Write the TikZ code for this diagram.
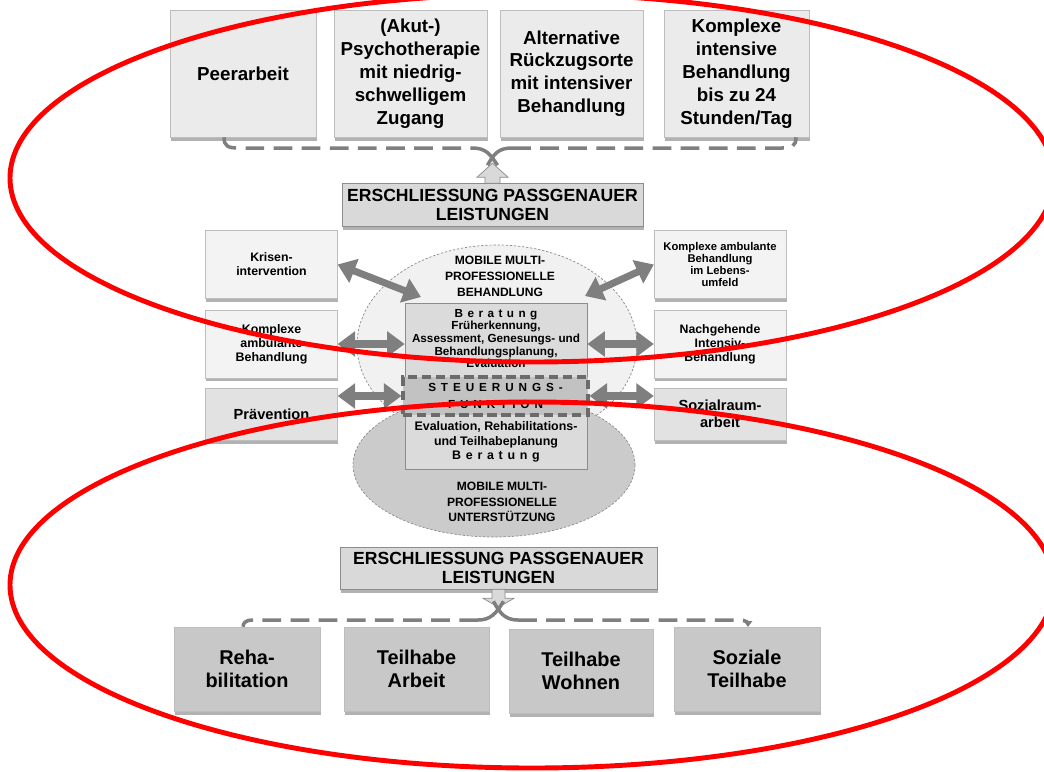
\documentclass[tikz,border=0pt]{standalone}
\usepackage{fontspec}
\setmainfont{Liberation Sans}
\usetikzlibrary{arrows.meta,shadows,calc}
\definecolor{lightfill}{HTML}{EBEBEB}
\definecolor{palefill}{HTML}{F3F3F3}
\definecolor{greyfill}{HTML}{E2E2E2}
\definecolor{midfill}{HTML}{D9D9D9}
\definecolor{darkfill}{HTML}{C8C8C8}
\definecolor{rimcolor}{HTML}{BDBDBD}
\definecolor{linkcolor}{HTML}{7F7F7F}
\definecolor{ringcolor}{HTML}{FF0000}
\colorlet{shadecolor}{black!60}
\tikzstyle{basebox} = [
    rectangle,
    draw=rimcolor,
    line width=0.5pt,
    align=center,
    inner sep=2pt,
    drop shadow={shadow xshift=0.6pt, shadow yshift=-3pt, fill=shadecolor, opacity=0.5}
    ]
\tikzstyle{topbox} = [basebox, fill=lightfill, minimum height=3.81cm,
    font=\bfseries\fontsize{16}{19.5}\selectfont]
\tikzstyle{sidebox} = [basebox, fill=palefill, minimum width=3.95cm, minimum height=2.03cm]
\tikzstyle{lowbox} = [basebox, fill=darkfill, minimum height=2.52cm,
    font=\bfseries\fontsize{17}{19.5}\selectfont]
\tikzstyle{keybox} = [basebox, fill=midfill, draw=black!45, minimum height=1.29cm,
    font=\bfseries\fontsize{15}{16.2}\selectfont]
\tikzstyle{fatlink} = [draw=linkcolor, line width=6pt, <->,
    >={Triangle[length=15pt,width=21pt]}]
\tikzstyle{bracket} = [draw=linkcolor, line width=3pt, dash pattern=on 16pt off 8pt]
\tikzstyle{blockarrow} = [fill=midfill, draw=black!45, line width=0.6pt]
\tikzstyle{oval} = [dash pattern=on 2pt off 1.5pt, draw=black!45, line width=0.6pt]
\tikzstyle{ring} = [draw=ringcolor, line width=4.2pt]

\begin{document}
\begin{tikzpicture}[x=0.03cm, y=-0.03cm]
\useasboundingbox (0,0) rectangle (1044,771);

% offers on top
\node[topbox, minimum width=4.38cm] (peer) at (243,73.5) {Peerarbeit};
\node[topbox, minimum width=4.59cm] (akut) at (410.5,73.5) {(Akut-)\\Psychotherapie\\mit niedrig-\\schwelligem\\Zugang};
\node[topbox, minimum width=4.29cm] (alter) at (571.5,73.5) {Alternative\\R\"uckzugsorte\\mit intensiver\\Behandlung};
\node[topbox, minimum width=4.35cm] (intens) at (736.5,73.5) {Komplexe\\intensive\\Behandlung\\bis zu 24\\Stunden/Tag};

\node[keybox, minimum width=9.03cm] (erschTop) at (492.5,205) {ERSCHLIESSUNG PASSGENAUER\\LEISTUNGEN};

% side boxes
\node[sidebox, font=\bfseries\fontsize{10.5}{12}\selectfont] (krisen) at (271.5,264.5) {Krisen-\\intervention};
\node[sidebox, font=\bfseries\fontsize{10.6}{12}\selectfont] (kamb) at (271.5,344) {Komplexe\\ambulante\\Behandlung};
\node[sidebox, fill=greyfill, minimum height=1.56cm, font=\bfseries\fontsize{12.5}{14.5}\selectfont] (praev) at (271.5,414) {Pr\"avention};
\node[sidebox, font=\bfseries\fontsize{9.6}{10.5}\selectfont] (lebens) at (720,264.5) {Komplexe ambulante\\Behandlung\\im Lebens-\\umfeld};
\node[sidebox, font=\bfseries\fontsize{10.5}{12}\selectfont] (nachg) at (720,344) {Nachgehende\\Intensiv-\\Behandlung};
\node[sidebox, fill=greyfill, minimum height=1.56cm, font=\bfseries\fontsize{12.5}{14.5}\selectfont] (sozial) at (720,414) {Sozialraum-\\arbeit};

% mobile teams
\draw[oval, fill=lightfill!70!white] (497,345) ellipse [x radius=140, y radius=100];
\draw[oval, fill=darkfill!95!white] (494,465) ellipse [x radius=141, y radius=72];
\node[align=center, font=\bfseries\fontsize{10.3}{13.6}\selectfont] (behTxt) at (500,276) {MOBILE MULTI-\\PROFESSIONELLE\\BEHANDLUNG};
\node[align=center, font=\bfseries\fontsize{10.3}{13}\selectfont] (untTxt) at (502,502) {MOBILE MULTI-\\PROFESSIONELLE\\UNTERST\"UTZUNG};

\node[rectangle, draw=black!45, fill=midfill!95!white, line width=0.6pt, minimum width=5.46cm, minimum height=4.98cm] (berat) at (496,386) {};
\node[align=center, font=\bfseries\fontsize{10}{10.8}\selectfont] (beratTxt) at (496,338.5)
    {{\addfontfeature{LetterSpace=38}Beratung}\\Fr\"uherkennung,\\Assessment, Genesungs- und\\Behandlungsplanung,\\Evaluation};
\node[align=center, font=\bfseries\fontsize{10.6}{12.3}\selectfont] (teilTxt) at (496,442)
    {Evaluation, Rehabilitations-\\und Teilhabeplanung\\{\addfontfeature{LetterSpace=38}Beratung}};
\node[rectangle, fill=black!24, draw=black!58, line width=2.6pt, dash pattern=on 8pt off 4pt,
    minimum width=5.55cm, minimum height=1.14cm, align=center,
    font=\bfseries\fontsize{10}{14.5}\selectfont\addfontfeature{LetterSpace=42}] (steuer) at (495.5,396)
    {STEUERUNGS-\\FUNKTION};

% links to the side boxes
\coordinate (krisTip) at (421,297);
\coordinate (lebTip) at (585,296);
\draw[fatlink] (krisen.east) -- (krisTip);
\draw[fatlink] (lebens.west) -- (lebTip);
\draw[fatlink] (kamb.east) -- (kamb.east -| berat.west);
\draw[fatlink] (nachg.west) -- (nachg.west -| berat.east);
\draw[fatlink] (praev.east |- steuer.west) -- (steuer.west);
\draw[fatlink] (sozial.west |- steuer.east) -- (steuer.east);

% bracket to the offers on top
\draw[blockarrow] ($(erschTop.north)+(-7.5,0)$) -- ++(0,-6) -- ++(-8,0) -- ($(erschTop.north)+(0,-20)$)
    -- ($(erschTop.north)+(15.5,-6)$) -- ++(-8,0) -- ($(erschTop.north)+(7.5,0)$) -- cycle;
\coordinate (topJoin) at ($(erschTop.north)+(0,-23)$);
\draw[bracket] ($(peer.south)+(-19,0)$) .. controls (224,146) and (228,148) .. (238,148) -- (472,148);
\draw[bracket] (512,148) -- (782,148) .. controls (792,148) and (796,146) .. ($(intens.south)+(59.5,0)$);
\draw[draw=linkcolor, line width=3pt] (472,148) .. controls (486,148) and (490,154) .. ($(topJoin)+(5,5)$);
\draw[draw=linkcolor, line width=3pt] (512,148) .. controls (498,148) and (494,154) .. ($(topJoin)+(-5,5)$);

% lower part
\node[keybox, minimum width=9.51cm, minimum height=1.26cm] (erschBot) at (498.5,568) {ERSCHLIESSUNG PASSGENAUER\\LEISTUNGEN};

\node[lowbox, minimum width=4.38cm] (reha) at (247,669) {Reha-\\bilitation};
\node[lowbox, minimum width=4.35cm] (arbeit) at (416.5,669) {Teilhabe\\Arbeit};
\node[lowbox, minimum width=4.32cm] (wohnen) at (581,671) {Teilhabe\\Wohnen};
\node[lowbox, minimum width=4.38cm] (soziale) at (747,669) {Soziale\\Teilhabe};

\draw[blockarrow] ($(erschBot.south)+(-6.5,0)$) -- ++(0,9) -- ++(-9,0) -- ($(erschBot.south)+(0,18)$)
    -- ($(erschBot.south)+(15.5,9)$) -- ++(-9,0) -- ($(erschBot.south)+(6.5,0)$) -- cycle;
\coordinate (botJoin) at ($(erschBot.south)+(0,17)$);
\draw[draw=linkcolor, line width=3pt] ($(botJoin)+(5,-5)$) .. controls (496,614) and (490,620) .. (478,620);
\draw[draw=linkcolor, line width=3pt] ($(botJoin)+(-5,-5)$) .. controls (500,614) and (506,620) .. (518,620);
\draw[bracket] (478,620) -- (252,620) .. controls (246,620) and (243,623) .. ($(reha.north)+(-4,0)$);
\draw[bracket, -{Triangle[length=5pt,width=7pt]}] (518,620) -- (740,620) .. controls (745,620) and (748,623) .. (748,627);

% red marks
\draw[ring] (532,178) ellipse [x radius=522, y radius=184];
\draw[ring] (532,585) ellipse [x radius=522, y radius=183];
\end{tikzpicture}
\end{document}
